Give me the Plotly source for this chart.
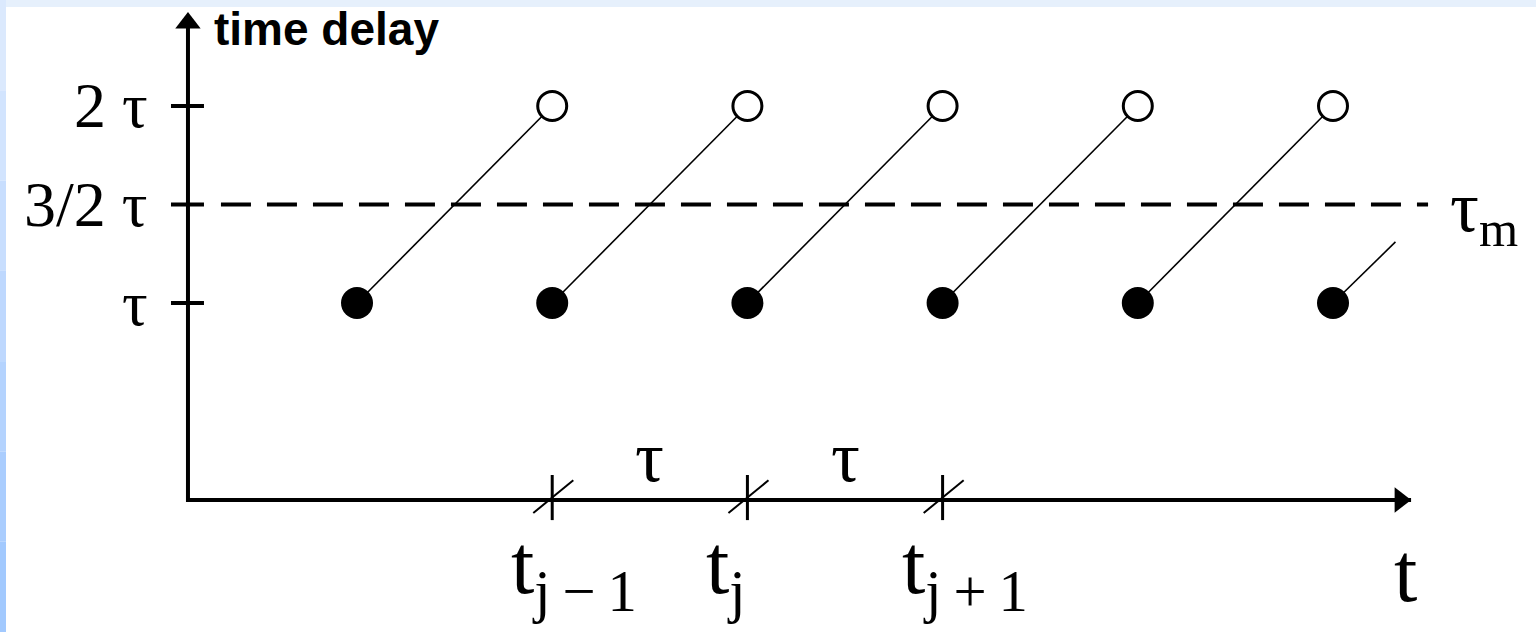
import plotly.graph_objects as go

# ---------------- data (time in units of tau, delay in units of tau) ----------------
FILLED_T = [0, 1, 2, 3, 4, 5]
FILLED_DELAY = [1, 1, 1, 1, 1, 1]
OPEN_T = [1, 2, 3, 4, 5]
OPEN_DELAY = [2, 2, 2, 2, 2]
PARTIAL_END_T = 5.32
PARTIAL_END_DELAY = 1.31

Y_TICK_VALUES = [1, 1.5, 2]
Y_TICK_LABELS = ["τ", "3/2 τ", "2 τ"]
X_TICK_VALUES = [1, 2, 3]
X_TICK_LABELS = ["t<sub>j\u2009−\u20091</sub>", "t<sub>j</sub>", "t<sub>j\u2009+\u20091</sub>"]
GAP_LABEL_T = [1.5, 2.5]
GAP_LABEL = "τ"
TAU_M = 1.5

# ---------------- layout helpers ----------------
X_RANGE = [-1.829, 6.040]
Y_RANGE = [-0.670, 2.538]
AXIS_T = -0.866          # position of vertical axis on time scale
AXIS_END_T = 5.40        # right end of time axis
AXIS_TOP = 2.477         # top end of delay axis

SERIF = "Liberation Serif, Times New Roman, serif"
SANS = "Liberation Sans, Arial, sans-serif"

fig = go.Figure()

# background strips
shapes = []
shapes.append(dict(type="rect", xref="paper", yref="paper", x0=0, x1=1, y0=1 - 7 / 632, y1=1,
                   fillcolor="#e6f0fc", line=dict(width=0), layer="below"))
left_cols = ["#dbe9fd", "#d2e4fe", "#c8defe", "#bed8fe", "#b4d3fe", "#aacdfe", "#a2c9fe"]
n = len(left_cols)
for i, c in enumerate(left_cols):
    shapes.append(dict(type="rect", xref="paper", yref="paper", x0=0, x1=6 / 1536,
                       y0=1 - (i + 1) / n, y1=1 - i / n,
                       fillcolor=c, line=dict(width=0), layer="below"))

# axes
shapes.append(dict(type="line", x0=AXIS_T, x1=AXIS_END_T, y0=0, y1=0,
                   line=dict(color="black", width=4)))
shapes.append(dict(type="line", x0=AXIS_T, x1=AXIS_T, y0=-0.01, y1=AXIS_TOP - 0.05,
                   line=dict(color="black", width=4)))
# y ticks
for v in Y_TICK_VALUES:
    shapes.append(dict(type="line", x0=AXIS_T - 0.087, x1=AXIS_T + 0.082, y0=v, y1=v,
                       line=dict(color="black", width=4)))
# x ticks with slash
for v in X_TICK_VALUES:
    shapes.append(dict(type="line", x0=v, x1=v, y0=-0.102, y1=0.127,
                       line=dict(color="black", width=3)))
    shapes.append(dict(type="line", x0=v - 0.097, x1=v + 0.108, y0=-0.066, y1=0.10,
                       line=dict(color="black", width=2)))
# tau_m dashed line
shapes.append(dict(type="line", x0=-0.697, x1=5.487, y0=TAU_M, y1=TAU_M,
                   line=dict(color="black", width=4, dash="30px,16px")))
fig.update_layout(shapes=shapes)

# diagonal segments
seg_x, seg_y = [], []
for t0, d0, t1, d1 in zip(FILLED_T[:-1], FILLED_DELAY[:-1], OPEN_T, OPEN_DELAY):
    seg_x += [t0, t1, None]
    seg_y += [d0, d1, None]
seg_x += [FILLED_T[-1], PARTIAL_END_T, None]
seg_y += [FILLED_DELAY[-1], PARTIAL_END_DELAY, None]
fig.add_trace(go.Scatter(x=seg_x, y=seg_y, mode="lines",
                         line=dict(color="black", width=1.6), hoverinfo="skip"))

# filled and open markers
fig.add_trace(go.Scatter(x=FILLED_T, y=FILLED_DELAY, mode="markers",
                         marker=dict(color="black", size=32, line=dict(width=0))))
fig.add_trace(go.Scatter(x=OPEN_T, y=OPEN_DELAY, mode="markers",
                         marker=dict(color="white", size=29, line=dict(color="black", width=3))))

# arrow heads
fig.add_trace(go.Scatter(x=[AXIS_T], y=[AXIS_TOP - 0.056], mode="markers",
                         marker=dict(symbol="triangle-up", color="black", size=22)))
fig.add_trace(go.Scatter(x=[AXIS_END_T - 0.056], y=[0], mode="markers",
                         marker=dict(symbol="triangle-right", color="black", size=22)))

ann = []
ann.append(dict(x=AXIS_T + 0.125, y=2.39, text="<b>time delay</b>", xanchor="left", yanchor="middle",
                font=dict(family=SANS, size=46, color="black")))
for v, lab in zip(Y_TICK_VALUES, Y_TICK_LABELS):
    ann.append(dict(x=-1.06, y=v, text=lab, xanchor="right", yanchor="middle",
                    font=dict(family=SERIF, size=64, color="black")))
for v, lab in zip(X_TICK_VALUES, X_TICK_LABELS):
    ann.append(dict(x=v - 0.22, y=-0.36, text=lab, xanchor="left", yanchor="middle",
                    font=dict(family=SERIF, size=84, color="black")))
for v in GAP_LABEL_T:
    ann.append(dict(x=v, y=0.22, text=GAP_LABEL, xanchor="center", yanchor="middle",
                    font=dict(family=SERIF, size=72, color="black")))
ann.append(dict(x=5.59, y=TAU_M - 0.04, text="τ<sub>m</sub>", xanchor="left", yanchor="middle",
                font=dict(family=SERIF, size=72, color="black")))
ann.append(dict(x=5.37, y=-0.37, text="t", xanchor="center", yanchor="middle",
                font=dict(family=SERIF, size=84, color="black")))
for a in ann:
    a.update(showarrow=False, xref="x", yref="y")
fig.update_layout(annotations=ann)

fig.update_layout(
    width=1536, height=632,
    margin=dict(l=0, r=0, t=0, b=0),
    paper_bgcolor="white", plot_bgcolor="white",
    showlegend=False,
    xaxis=dict(range=X_RANGE, visible=False, fixedrange=True),
    yaxis=dict(range=Y_RANGE, visible=False, fixedrange=True),
)

fig.write_html("out.html", config=dict(displayModeBar=False),
               post_script="document.body.style.margin='0';document.body.style.overflow='hidden';")
